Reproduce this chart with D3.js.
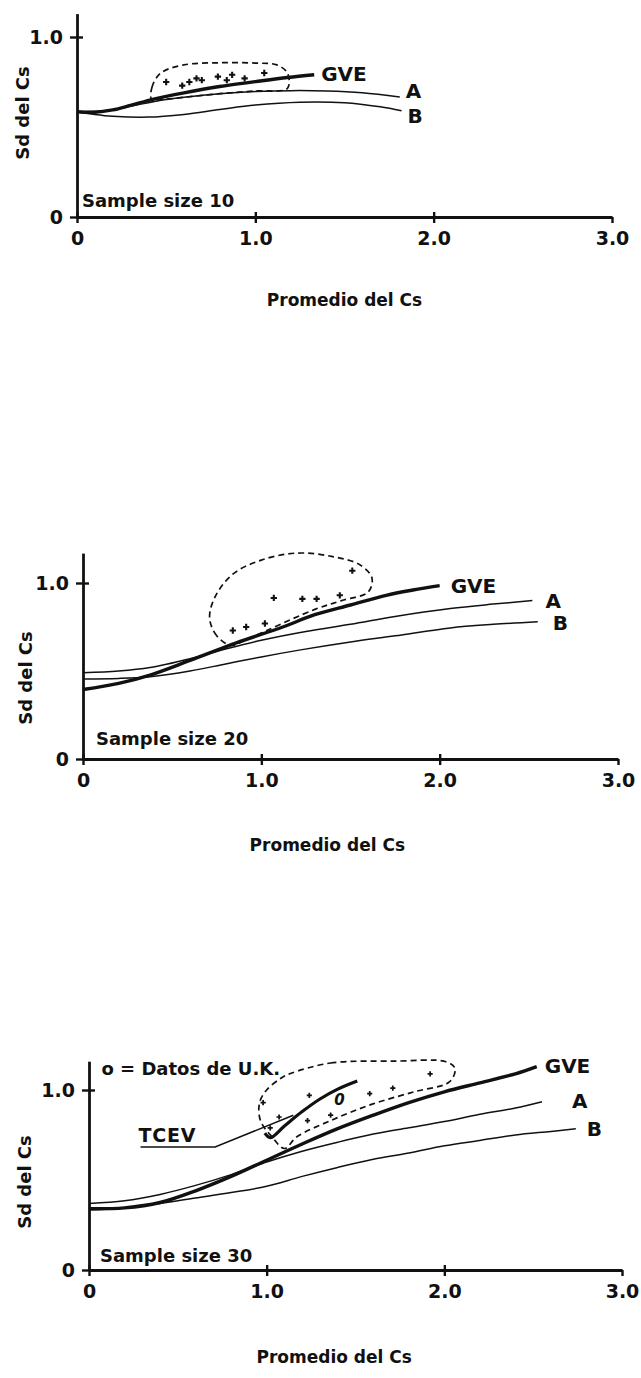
<!DOCTYPE html>
<html>
<head>
<meta charset="utf-8">
<script src="https://cdn.jsdelivr.net/npm/d3@7"></script>
<style>
  body { margin: 0; background: #fff; }
  svg text { font-family: "DejaVu Sans", "Liberation Sans", sans-serif; font-weight: bold; fill: #111; }
</style>
</head>
<body>
<div id="container"></div>
<script>
/* DATA */
const xTicks = [0, 1, 2, 3];
const yTicks = [0, 1];
const sampleSizes = [10, 20, 30];
const seriesNames = ["GVE", "A", "B"];

// sample size 10
const gve10 = [[0,0.585],[0.1,0.582],[0.2,0.595],[0.3,0.62],[0.43,0.655],[0.6,0.69],[0.8,0.725],[1.0,0.752],[1.18,0.775],[1.33,0.79]];
const a10 = [[0,0.585],[0.15,0.59],[0.3,0.615],[0.45,0.645],[0.6,0.665],[0.8,0.685],[1.0,0.697],[1.2,0.702],[1.4,0.7],[1.6,0.69],[1.81,0.667]];
const b10 = [[0,0.585],[0.1,0.57],[0.2,0.56],[0.4,0.555],[0.6,0.57],[0.8,0.597],[1.0,0.622],[1.25,0.638],[1.5,0.635],[1.7,0.612],[1.82,0.59]];
const env10 = [[0.42,0.645],[0.42,0.72],[0.47,0.8],[0.6,0.845],[0.8,0.857],[1.0,0.855],[1.12,0.845],[1.18,0.8],[1.18,0.715],[1.0,0.7],[0.8,0.685],[0.6,0.665],[0.46,0.65]];
const pts10 = [[0.5,0.75],[0.59,0.73],[0.63,0.75],[0.67,0.77],[0.7,0.76],[0.79,0.78],[0.84,0.76],[0.87,0.79],[0.94,0.77],[1.05,0.8]];

// sample size 20
const gve20 = [[0,0.395],[0.2,0.43],[0.376,0.477],[0.6,0.56],[0.86,0.66],[1.12,0.75],[1.3,0.82],[1.5,0.875],[1.7,0.93],[1.85,0.96],[2.0,0.985]];
const a20 = [[0,0.49],[0.2,0.5],[0.376,0.52],[0.6,0.57],[0.8,0.625],[1.0,0.675],[1.25,0.725],[1.5,0.765],[1.75,0.81],[2.06,0.855],[2.3,0.88],[2.52,0.9]];
const b20 = [[0,0.455],[0.2,0.458],[0.376,0.468],[0.6,0.5],[0.8,0.54],[1.0,0.58],[1.22,0.62],[1.5,0.665],[1.75,0.7],[2.06,0.745],[2.3,0.765],[2.55,0.78]];
const env20 = [[0.83,0.645],[0.75,0.7],[0.71,0.8],[0.74,0.92],[0.84,1.05],[1.0,1.13],[1.2,1.17],[1.4,1.15],[1.55,1.105],[1.62,1.03],[1.6,0.95],[1.45,0.9],[1.3,0.85],[1.03,0.73],[0.9,0.67]];
const pts20 = [[0.84,0.73],[0.915,0.75],[1.02,0.77],[1.07,0.915],[1.23,0.91],[1.31,0.91],[1.44,0.93],[1.51,1.07]];

// sample size 30
const gve30 = [[0,0.34],[0.2,0.345],[0.4,0.375],[0.6,0.44],[0.8,0.52],[1.0,0.61],[1.2,0.7],[1.4,0.785],[1.6,0.86],[1.8,0.93],[2.0,0.99],[2.2,1.04],[2.4,1.09],[2.52,1.13]];
const a30 = [[0,0.37],[0.2,0.385],[0.4,0.42],[0.6,0.47],[0.8,0.53],[1.0,0.6],[1.2,0.66],[1.4,0.71],[1.6,0.755],[1.8,0.79],[2.0,0.825],[2.2,0.865],[2.4,0.9],[2.55,0.935]];
const b30 = [[0,0.335],[0.2,0.345],[0.4,0.37],[0.6,0.4],[0.8,0.43],[1.0,0.465],[1.2,0.52],[1.4,0.57],[1.6,0.615],[1.8,0.65],[2.0,0.69],[2.2,0.72],[2.4,0.75],[2.6,0.77],[2.74,0.785]];
const tcev30 = [[0.99,0.76],[1.02,0.735],[1.1,0.8],[1.2,0.88],[1.3,0.95],[1.4,1.005],[1.51,1.05]];
const tcevLeader = [[0.29,0.683],[0.71,0.683],[1.15,0.86]];
const env30 = [[1.13,1.09],[1.36,1.15],[1.71,1.16],[2.01,1.157],[2.06,1.12],[2.03,1.046],[1.83,0.99],[1.59,0.92],[1.36,0.83],[1.17,0.74],[1.1,0.675],[1.03,0.74],[0.965,0.83],[0.96,0.93],[1.0,1.0],[1.08,1.065]];
const pts30 = [[0.98,0.93],[1.07,0.85],[1.24,0.97],[1.02,0.79],[1.23,0.83],[1.36,0.86],[1.58,0.98],[1.71,1.01],[1.92,1.09]];
const ukPoint = [[1.41,0.95]];

/* LAYOUT */
const width = 641, height = 1378;
const panels = [
  { n: 10, x0: 77, x3: 612, y0: 217, y1: 37, yTop: 1.13, gve: gve10, a: a10, b: b10, env: env10, pts: pts10,
    titleX: 1.5, titleY: 306, ytX: 29, ytY: 113, sample: [5, -10], ptSize: 22,
    lab: { GVE: [7, 6], A: [6, 1], B: [6, 12] } },
  { n: 20, x0: 83, x3: 618, y0: 759, y1: 583, yTop: 1.17, gve: gve20, a: a20, b: b20, env: env20, pts: pts20,
    titleX: 1.37, titleY: 851, ytX: 32, ytY: 678, sample: [13, -14], ptSize: 22,
    lab: { GVE: [11, 7], A: [13, 7], B: [15, 8] } },
  { n: 30, x0: 89, x3: 622, y0: 1270, y1: 1090, yTop: 1.16, gve: gve30, a: a30, b: b30, env: env30, pts: pts30,
    titleX: 1.38, titleY: 1363, ytX: 31, ytY: 1182, sample: [11, -8], ptSize: 15,
    lab: { GVE: [8, 6], A: [30, 6], B: [11, 7] } }
];

const svg = d3.select("#container").append("svg")
  .attr("width", width)
  .attr("height", height);

panels.forEach(p => drawPanel(p));

function drawPanel(p) {
  const xScale = d3.scaleLinear().domain([0, 3]).range([p.x0, p.x3]);
  const yScale = d3.scaleLinear().domain([0, 1]).range([p.y0, p.y1]);
  const g = svg.append("g");

  const line = d3.line().x(d => xScale(d[0])).y(d => yScale(d[1])).curve(d3.curveCatmullRom);
  const closed = d3.line().x(d => xScale(d[0])).y(d => yScale(d[1])).curve(d3.curveCatmullRomClosed);

  // axes
  const fmt = d => d === 0 ? "0" : d3.format(".1f")(d);
  const xAxis = g.append("g")
    .attr("transform", `translate(0,${p.y0})`)
    .call(d3.axisBottom(xScale).tickValues(xTicks).tickFormat(fmt).tickSize(6).tickSizeOuter(0));
  xAxis.selectAll(".tick line").attr("y1", -5).attr("y2", 6);
  xAxis.selectAll(".tick text").attr("y", 28).attr("dy", 0);

  const yAxis = g.append("g")
    .attr("transform", `translate(${p.x0},0)`)
    .call(d3.axisLeft(yScale.copy().domain([0, p.yTop]).range([p.y0, p.y0 - (p.y0 - p.y1) * p.yTop]))
      .tickValues(yTicks).tickFormat(fmt).tickSize(7).tickSizeOuter(0));
  yAxis.selectAll(".tick line").attr("x1", 6).attr("x2", -7);
  yAxis.selectAll(".tick text").attr("x", -14);

  [xAxis, yAxis].forEach(ax => {
    ax.select(".domain").attr("stroke", "#111").attr("stroke-width", 2.8);
    ax.selectAll(".tick line").attr("stroke", "#111").attr("stroke-width", 2.4);
    ax.selectAll(".tick text").attr("font-size", 19).attr("font-family", null).attr("fill", "#111");
  });
  xAxis.select(".tick:last-of-type line").attr("y1", 0);

  // axis titles
  g.append("text")
    .attr("transform", `translate(${p.ytX},${p.ytY}) rotate(-90)`)
    .attr("text-anchor", "middle")
    .attr("font-size", 18)
    .text("Sd del Cs");

  g.append("text")
    .attr("x", xScale(p.titleX))
    .attr("y", p.titleY)
    .attr("text-anchor", "middle")
    .attr("font-size", 17)
    .text("Promedio del Cs");

  g.append("text")
    .attr("x", p.x0 + p.sample[0])
    .attr("y", p.y0 + p.sample[1])
    .attr("font-size", 18)
    .text(`Sample size ${p.n}`);

  // envelope of simulated samples
  g.append("path")
    .attr("d", closed(p.env))
    .attr("fill", "none")
    .attr("stroke", "#111")
    .attr("stroke-width", 1.7)
    .attr("stroke-dasharray", "6,4");

  // observed points
  g.selectAll("path.pt")
    .data(p.pts)
    .join("path")
    .attr("class", "pt")
    .attr("transform", d => `translate(${xScale(d[0])},${yScale(d[1])})`)
    .attr("d", d3.symbol(d3.symbolCross, p.ptSize))
    .attr("fill", "#111");

  // curves
  const curves = [
    { name: seriesNames[1], data: p.a, w: 1.5 },
    { name: seriesNames[2], data: p.b, w: 1.5 },
    { name: seriesNames[0], data: p.gve, w: 3.4 }
  ];
  g.selectAll("path.curve")
    .data(curves)
    .join("path")
    .attr("class", "curve")
    .attr("d", d => line(d.data))
    .attr("fill", "none")
    .attr("stroke", "#111")
    .attr("stroke-width", d => d.w);

  g.selectAll("text.lab")
    .data(curves)
    .join("text")
    .attr("class", "lab")
    .attr("x", d => xScale(d.data[d.data.length - 1][0]) + p.lab[d.name][0])
    .attr("y", d => yScale(d.data[d.data.length - 1][1]) + p.lab[d.name][1])
    .attr("font-size", 20)
    .text(d => d.name);

  if (p.n === 30) {
    g.append("path")
      .attr("d", d3.line().x(d => xScale(d[0])).y(d => yScale(d[1]))(tcevLeader))
      .attr("fill", "none").attr("stroke", "#111").attr("stroke-width", 1.5);
    g.append("path")
      .attr("d", line(tcev30))
      .attr("fill", "none").attr("stroke", "#111").attr("stroke-width", 3.2);
    g.append("text")
      .attr("x", xScale(tcevLeader[0][0]) - 2)
      .attr("y", yScale(tcevLeader[0][1]) - 5)
      .attr("font-size", 19)
      .attr("letter-spacing", 0.8)
      .text("TCEV");
    g.append("text")
      .attr("x", xScale(0.07))
      .attr("y", yScale(1.085))
      .attr("font-size", 18)
      .text("o = Datos de U.K.");
    g.selectAll("text.uk")
      .data(ukPoint)
      .join("text")
      .attr("class", "uk")
      .attr("x", d => xScale(d[0]))
      .attr("y", d => yScale(d[1]) + 6)
      .attr("text-anchor", "middle")
      .attr("font-size", 15)
      .attr("font-style", "italic")
      .attr("font-weight", "normal")
      .text("0");
  }
}
</script>
</body>
</html>
